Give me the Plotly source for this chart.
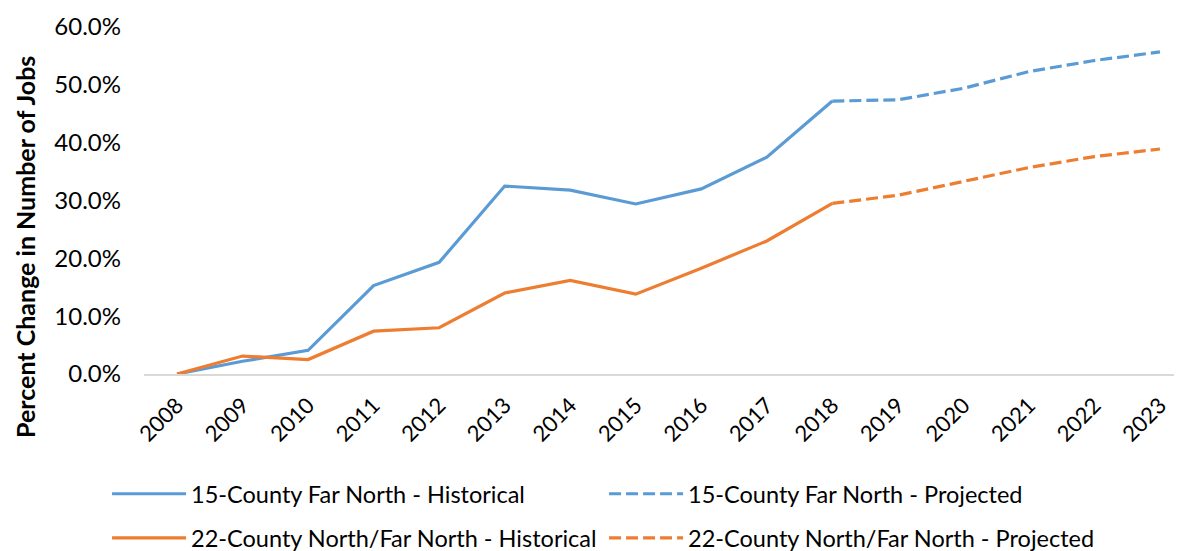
import plotly.graph_objects as go

years = list(range(2008, 2024))
hist_years = list(range(2008, 2019))
proj_years = list(range(2018, 2024))

far_north_hist = [0.0, 2.2, 4.1, 15.3, 19.3, 32.5, 31.8, 29.4, 32.0, 37.5, 47.2]
far_north_proj = [47.2, 47.4, 49.4, 52.3, 54.2, 55.7]
north_hist = [0.0, 3.1, 2.5, 7.4, 8.0, 14.0, 16.2, 13.8, 18.3, 23.0, 29.5]
north_proj = [29.5, 30.9, 33.3, 35.7, 37.6, 38.9]

tick_labels = [str(y) for y in years]
y_ticks = [0, 10, 20, 30, 40, 50, 60]
y_tick_labels = [f"{v:.1f}%" for v in y_ticks]
y_title = "Percent Change in Number of Jobs"

blue = "#5B9BD5"
orange = "#ED7D31"
font_main = "Lato"
legend_font = dict(family="Lato", size=23.5, color="#000000")
proj_dash = "12px,5px"

fig = go.Figure()
fig.add_trace(go.Scatter(x=hist_years, y=far_north_hist, mode="lines",
                         name="15-County Far North - Historical", legend="legend",
                         line=dict(color=blue, width=3.2)))
fig.add_trace(go.Scatter(x=proj_years, y=far_north_proj, mode="lines",
                         name="15-County Far North - Projected", legend="legend",
                         line=dict(color=blue, width=3.2, dash=proj_dash)))
fig.add_trace(go.Scatter(x=hist_years, y=north_hist, mode="lines",
                         name="22-County North/Far North - Historical", legend="legend2",
                         line=dict(color=orange, width=3.2)))
fig.add_trace(go.Scatter(x=proj_years, y=north_proj, mode="lines",
                         name="22-County North/Far North - Projected", legend="legend2",
                         line=dict(color=orange, width=3.2, dash=proj_dash)))

leg_common = dict(orientation="h", xref="container", yref="container",
                  x=0.0838, xanchor="left", yanchor="middle",
                  entrywidth=408, entrywidthmode="pixels", itemwidth=74,
                  font=legend_font, bgcolor="rgba(0,0,0,0)")

fig.update_layout(
    width=1182, height=551,
    margin=dict(l=136, r=0, t=19, b=185),
    paper_bgcolor="white", plot_bgcolor="white",
    font=dict(family=font_main, size=22, color="#000000"),
    showlegend=True,
    legend=dict(y=0.118, **leg_common),
    legend2=dict(y=0.0381, **leg_common),
    annotations=[dict(text=f"<b>{y_title}</b>", textangle=-90,
                      xref="paper", yref="paper", x=-0.1138, y=0.366,
                      xanchor="center", yanchor="middle", showarrow=False,
                      font=dict(size=25, family=font_main))],
)
fig.update_xaxes(range=[2007.496, 2023.458], tickmode="array", tickvals=years,
                 ticktext=tick_labels, tickangle=-45, showgrid=False,
                 zeroline=False, showline=True, linecolor="#D9D9D9", linewidth=1.5,
                 ticks="", ticklabelstandoff=8, tickfont=dict(size=22),
                 automargin=False)
fig.update_yaxes(range=[0, 60], tickmode="array", tickvals=y_ticks,
                 ticktext=y_tick_labels, showgrid=False, zeroline=False,
                 showline=False, ticks="", ticklabelstandoff=22,
                 tickfont=dict(size=24), automargin=False)

fig.write_html("out.html")
